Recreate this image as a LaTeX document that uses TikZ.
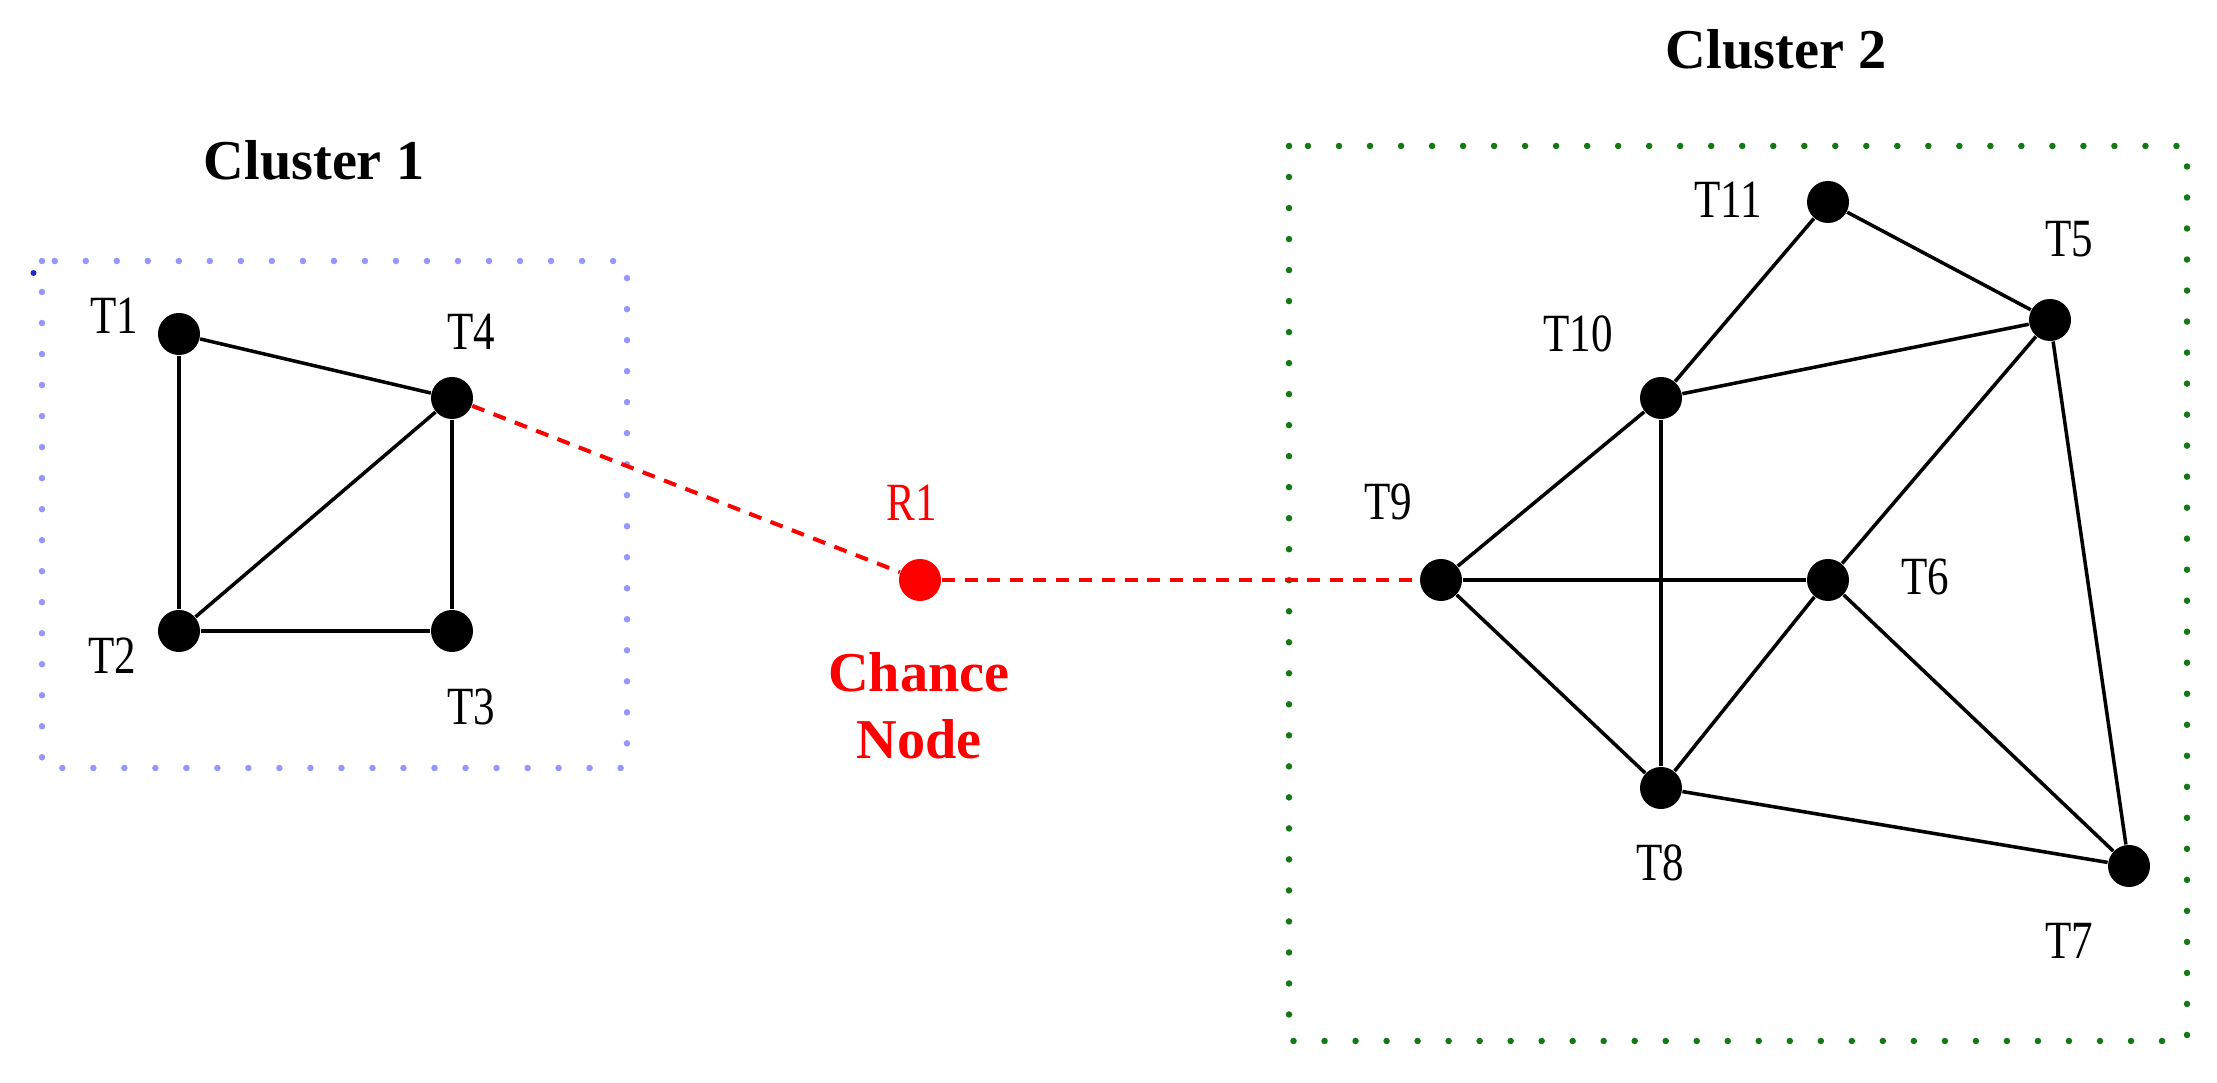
\documentclass[tikz,border=0pt]{standalone}
\usepackage{fontspec}
\setmainfont{Liberation Serif}
\newfontfamily\labfont[FakeStretch=0.8]{Liberation Serif}
\definecolor{boxblue}{RGB}{150,150,255}
\definecolor{boxgreen}{RGB}{20,120,20}
\definecolor{dotblue}{RGB}{40,40,200}
\begin{document}
\begin{tikzpicture}[x=0.01cm,y=-0.01cm,
  tn/.style={circle,fill=black,inner sep=0pt,minimum size=0.42cm},
  rn/.style={circle,fill=red,inner sep=0pt,minimum size=0.42cm},
  lab/.style={font=\labfont\fontsize{15.3}{18}\selectfont,inner sep=0pt},
  ttl/.style={font=\bfseries\fontsize{16}{19}\selectfont,inner sep=0pt},
  edge/.style={line width=1pt,black},
  link/.style={red,line width=1.15pt,dash pattern=on 3.7pt off 2.8pt},
  dotbox/.style={line width=0.065cm,line cap=round,dash pattern=on 0pt off 0.31cm}]
\useasboundingbox (0,0) rectangle (2217,1083);
\fill[white] (0,0) rectangle (2217,1083);

% cluster boxes
\draw[dotbox,boxblue] (42,261) rectangle (627,768);
\draw[dotbox,boxgreen] (1289,146) rectangle (2187,1041);
\fill[dotblue] (33.5,273) circle (0.03cm);

% titles
\node[ttl] (c1) at (314,160) {Cluster 1};
\node[ttl] (c2) at (1776,49) {Cluster 2};

% nodes cluster 1
\node[tn] (T1) at (179,334) {};
\node[tn] (T4) at (452,398) {};
\node[tn] (T2) at (179,631) {};
\node[tn] (T3) at (452,631) {};
% chance node
\node[rn] (R1) at (920,580) {};
% nodes cluster 2
\node[tn] (T9) at (1441,580) {};
\node[tn] (T6) at (1828,580) {};
\node[tn] (T10) at (1661,398) {};
\node[tn] (T11) at (1828,202) {};
\node[tn] (T5) at (2050,320) {};
\node[tn] (T8) at (1661,788) {};
\node[tn] (T7) at (2129,866) {};

% labels
\node[lab] (lT1) at (114,316) {T1};
\node[lab] (lT4) at (471,332) {T4};
\node[lab] (lT2) at (112,656) {T2};
\node[lab] (lT3) at (471,707) {T3};
\node[lab,text=red] (lR1) at (912,503) {R1};
\node[ttl,text=red,align=center] (lchance) at (919,706) {Chance\\Node};
\node[lab] (lT11) at (1728,200) {T11};
\node[lab] (lT5) at (2069,239) {T5};
\node[lab] (lT10) at (1578,334) {T10};
\node[lab] (lT9) at (1388,502) {T9};
\node[lab] (lT6) at (1925,577) {T6};
\node[lab] (lT8) at (1660,863) {T8};
\node[lab] (lT7) at (2069,941) {T7};

% edges cluster 1
\draw[edge] (T1) -- (T4);
\draw[edge] (T1) -- (T2);
\draw[edge] (T2) -- (T4);
\draw[edge] (T2) -- (T3);
\draw[edge] (T4) -- (T3);
% edges cluster 2
\draw[edge] (T11) -- (T10);
\draw[edge] (T11) -- (T5);
\draw[edge] (T10) -- (T5);
\draw[edge] (T10) -- (T9);
\draw[edge] (T10) -- (T8);
\draw[edge] (T5) -- (T6);
\draw[edge] (T5) -- (T7);
\draw[edge] (T9) -- (T6);
\draw[edge] (T9) -- (T8);
\draw[edge] (T6) -- (T8);
\draw[edge] (T6) -- (T7);
\draw[edge] (T8) -- (T7);
% links to chance node
\draw[link] (T4) -- (R1);
\draw[link] (R1) -- (T9);
\end{tikzpicture}
\end{document}
